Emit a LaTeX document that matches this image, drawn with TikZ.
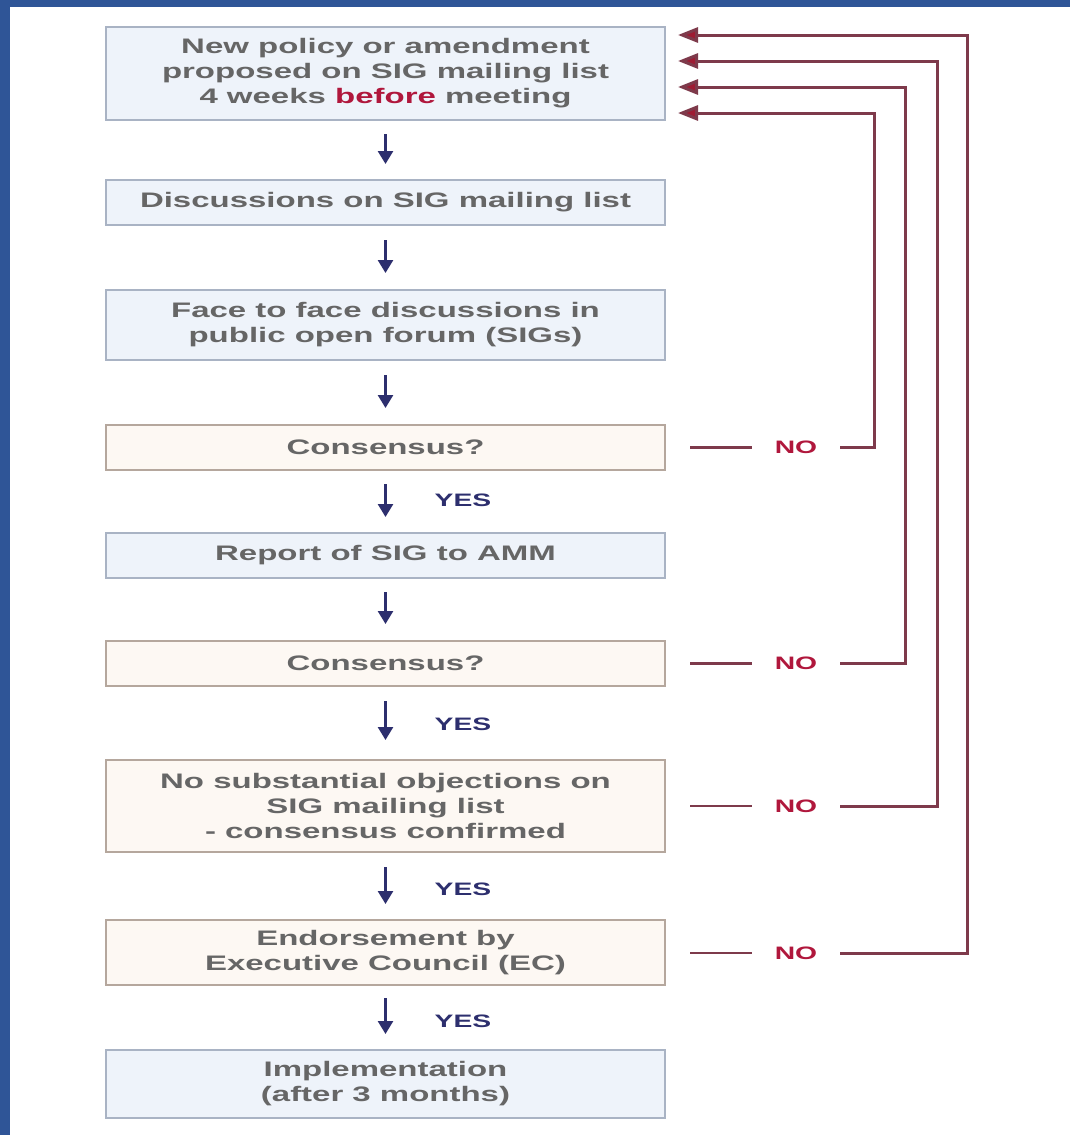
\documentclass[tikz,border=0pt]{standalone}
\usepackage{fontspec}
\setmainfont{Liberation Sans}[FakeStretch=1.57]
\usetikzlibrary{arrows.meta,calc}
\definecolor{framebl}{HTML}{2F5597}
\definecolor{bluefill}{HTML}{EEF3FA}
\definecolor{blueedge}{HTML}{A9B3C4}
\definecolor{peachfill}{HTML}{FDF8F3}
\definecolor{peachedge}{HTML}{B5A79D}
\definecolor{txt}{HTML}{666666}
\definecolor{navy}{HTML}{2D2F6E}
\definecolor{nored}{HTML}{B0173C}
\definecolor{backln}{HTML}{7E3A4B}
\definecolor{backtip}{HTML}{9E1C33}
\tikzset{
  boxbase/.style={draw, line width=2pt, minimum width=559pt, inner sep=0pt, align=center,
    font=\fontsize{21}{25}\selectfont\bfseries, text=txt},
  bluebox/.style={boxbase, fill=bluefill, draw=blueedge},
  peachbox/.style={boxbase, fill=peachfill, draw=peachedge},
  downarr/.style={draw=navy, line width=2.6pt, -{Triangle[width=15pt,length=13pt]}},
  yeslab/.style={text=navy, font=\fontsize{18}{18}\selectfont\bfseries, inner sep=0pt},
  nolab/.style={text=nored, font=\fontsize{18}{18}\selectfont\bfseries, inner sep=0pt, minimum width=88pt},
  noline/.style={draw=backln, line width=2.6pt},
  backline/.style={draw=backln, line width=3pt, -{Triangle[width=15pt,length=20pt,fill=backtip]}}
}
\begin{document}
\begin{tikzpicture}[x=1pt,y=-1pt]
\fill[white] (0,0) rectangle (1070,1135);
\useasboundingbox (0,0) rectangle (1070,1135);
\fill[framebl] (0,0) rectangle (10,1135);
\fill[framebl] (0,0) rectangle (1070,7);

% boxes
\node[bluebox, minimum height=93pt] (b1) at (385.5,73.5)
  {New policy or amendment\\proposed on SIG mailing list\\4 weeks \textcolor{nored}{before} meeting};
\node[bluebox, minimum height=45pt] (b2) at (385.5,202.5) {Discussions on SIG mailing list};
\node[bluebox, minimum height=70pt] (b3) at (385.5,325) {Face to face discussions in\\public open forum (SIGs)};
\node[peachbox, minimum height=45pt] (b4) at (385.5,447.5) {Consensus?};
\node[bluebox, minimum height=45pt] (b5) at (385.5,555.5) {Report of SIG to AMM};
\node[peachbox, minimum height=45pt] (b6) at (385.5,663.5) {Consensus?};
\node[peachbox, minimum height=92pt] (b7) at (385.5,806) {No substantial objections on\\SIG mailing list\\- consensus confirmed};
\node[peachbox, minimum height=65pt] (b8) at (385.5,952.5) {Endorsement by\\Executive Council (EC)};
\node[bluebox, minimum height=68pt] (b9) at (385.5,1084) {Implementation\\(after 3 months)};

% down arrows
\draw[downarr] ($(b1.south)+(0,13)$) -- ($(b2.north)+(0,-15)$);
\draw[downarr] ($(b2.south)+(0,14)$) -- ($(b3.north)+(0,-16)$);
\draw[downarr] ($(b3.south)+(0,14)$) -- ($(b4.north)+(0,-16)$);
\draw[downarr] ($(b4.south)+(0,13)$) -- ($(b5.north)+(0,-15)$);
\draw[downarr] ($(b5.south)+(0,13)$) -- ($(b6.north)+(0,-16)$);
\draw[downarr] ($(b6.south)+(0,14)$) -- ($(b7.north)+(0,-19)$);
\draw[downarr] ($(b7.south)+(0,14)$) -- ($(b8.north)+(0,-15)$);
\draw[downarr] ($(b8.south)+(0,12)$) -- ($(b9.north)+(0,-15)$);

% YES labels
\node[yeslab] (y4) at (463,500) {YES};
\node[yeslab] (y6) at (463,724) {YES};
\node[yeslab] (y7) at (463,889) {YES};
\node[yeslab] (y8) at (463,1021) {YES};

% NO labels
\node[nolab] (n4) at (796,447.5) {NO};
\node[nolab] (n6) at (796,663.5) {NO};
\node[nolab] (n7) at (796,806) {NO};
\node[nolab] (n8) at (796,953) {NO};

\coordinate (s4) at (690,447.5);
\coordinate (s6) at (690,663.5);
\coordinate (s7) at (690,806);
\coordinate (s8) at (690,953);
\draw[noline] (s4) -- (n4.west);
\draw[noline] (s6) -- (n6.west);
\draw[noline] (s7) -- (n7.west);
\draw[noline] (s8) -- (n8.west);

% return targets and corners
\coordinate (t4) at (678,113);
\coordinate (t6) at (678,87);
\coordinate (t7) at (678,61);
\coordinate (t8) at (678,35);
\coordinate (k4) at (874,113);
\coordinate (k6) at (905,87);
\coordinate (k7) at (937,61);
\coordinate (k8) at (967,35);

\draw[backline] (n4.east) -| (k4) -- (t4);
\draw[backline] (n6.east) -| (k6) -- (t6);
\draw[backline] (n7.east) -| (k7) -- (t7);
\draw[backline] (n8.east) -| (k8) -- (t8);
\end{tikzpicture}
\end{document}
